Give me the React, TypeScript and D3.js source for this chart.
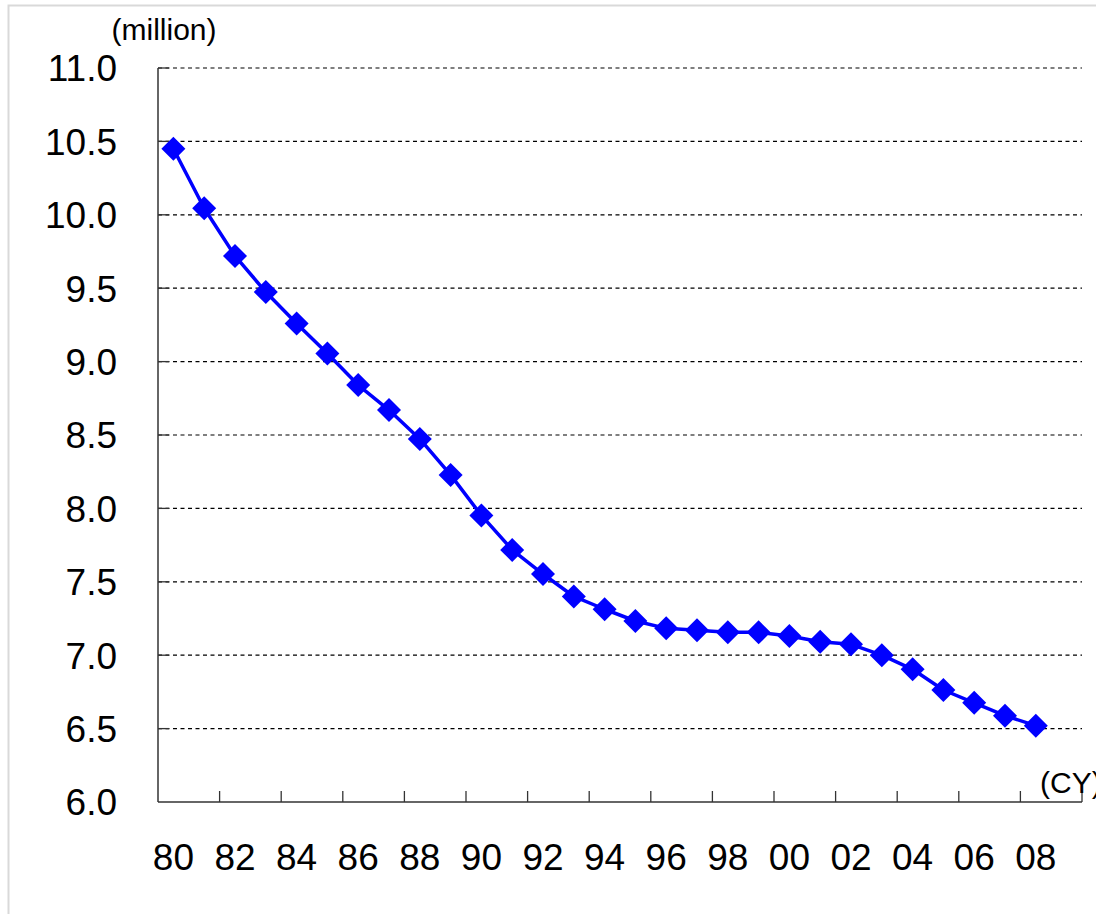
import React from "react";
import * as d3 from "d3";

const years: string[] = [
  "80","81","82","83","84","85","86","87","88","89",
  "90","91","92","93","94","95","96","97","98","99",
  "00","01","02","03","04","05","06","07","08","09",
];
const values: number[] = [
  10.45, 10.045, 9.72, 9.474, 9.26, 9.055, 8.84, 8.67, 8.473, 8.228,
  7.952, 7.717, 7.553, 7.4, 7.313, 7.233, 7.183, 7.17, 7.156, 7.156,
  7.131, 7.092, 7.074, 7.0, 6.904, 6.763, 6.676, 6.588, 6.52,
];
const yTicks: number[] = [6.0, 6.5, 7.0, 7.5, 8.0, 8.5, 9.0, 9.5, 10.0, 10.5, 11.0];
const xLabelYears: string[] = ["80","82","84","86","88","90","92","94","96","98","00","02","04","06","08"];
const yUnit = "(million)";
const xUnit = "(CY)";

const W = 1096;
const H = 914;
const left = 158;
const right = 1082;
const top = 68;
const bottom = 802;
const FONT = "'Liberation Sans', Arial, sans-serif";

export default function App() {
  const x = d3.scaleBand<string>().domain(years).range([left, right]).paddingInner(0).paddingOuter(0);
  const y = d3.scaleLinear().domain([6, 11]).range([bottom, top]);
  const cx = (i: number) => (x(years[i]) as number) + x.bandwidth() / 2;

  const line = d3
    .line<number>()
    .x((_, i) => cx(i))
    .y((d) => y(d));

  const r = 12;
  const diamond = `M0,${-r}L${r},0L0,${r}L${-r},0Z`;

  const tickXs: number[] = [];
  for (let i = 2; i <= years.length; i += 2) {
    tickXs.push(i < years.length ? (x(years[i]) as number) : right);
  }

  return (
    <svg
      width={W}
      height={H}
      style={{ position: "absolute", left: 0, top: 0, background: "#fff" }}
      fontFamily={FONT}
    >
      <rect x={8.5} y={5.5} width={W + 10} height={H + 10} fill="#fff" stroke="#d9d9d9" strokeWidth={2} />

      {yTicks.filter((t) => t > 6).map((t) => (
        <g key={t}>
          <line x1={left} x2={right} y1={y(t)} y2={y(t)} stroke="#000" strokeWidth={1.2} strokeDasharray="4,3.5" />
          <line x1={left} x2={left + 11} y1={y(t)} y2={y(t)} stroke="#333" strokeWidth={1.3} />
        </g>
      ))}

      <line x1={left} x2={left} y1={top} y2={bottom} stroke="#333" strokeWidth={1.5} />
      <line x1={left} x2={right} y1={bottom} y2={bottom} stroke="#333" strokeWidth={1.5} />
      {tickXs.map((tx, i) => (
        <line key={i} x1={tx} x2={tx} y1={bottom} y2={bottom - 11} stroke="#333" strokeWidth={1.3} />
      ))}

      {yTicks.map((t) => (
        <text key={t} x={117} y={y(t)} dy="0.36em" textAnchor="end" fontSize={37} fill="#000">
          {t.toFixed(1)}
        </text>
      ))}

      {xLabelYears.map((yr) => (
        <text key={yr} x={(x(yr) as number) + x.bandwidth() / 2} y={870} textAnchor="middle" fontSize={37} fill="#000">
          {yr}
        </text>
      ))}

      <text x={164} y={40} textAnchor="middle" fontSize={30} fill="#000">{yUnit}</text>
      <text x={1040} y={793} textAnchor="start" fontSize={30} fill="#000">{xUnit}</text>

      <path d={line(values) || ""} fill="none" stroke="#0000FF" strokeWidth={3.5} strokeLinejoin="round" />
      {values.map((v, i) => (
        <path key={i} d={diamond} transform={`translate(${cx(i)},${y(v)})`} fill="#0000FF" />
      ))}
    </svg>
  );
}
